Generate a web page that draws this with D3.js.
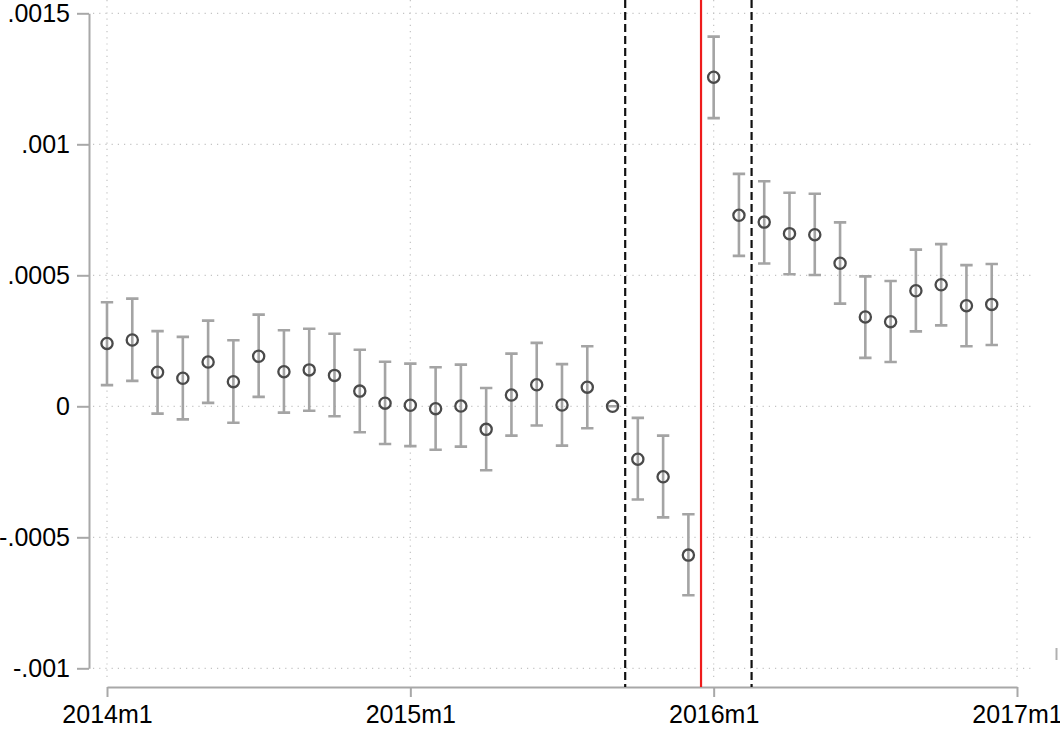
<!DOCTYPE html>
<html>
<head>
<meta charset="utf-8">
<script src="https://cdn.jsdelivr.net/npm/d3@7"></script>
<style>
  html, body { margin: 0; padding: 0; background: #fff; }
  svg { display: block; font-family: "Liberation Sans", Arial, sans-serif; }
</style>
</head>
<body>
<svg id="chart" width="1060" height="733"></svg>
<script>
// Monthly event-study coefficients, 2014m1 .. 2016m12 (reference month 2015m9 = 0)
const monthIndex = d3.range(36);
const coef = [0.000240, 0.000253, 0.000130, 0.000107, 0.000169, 0.000094, 0.000191, 0.000132,
              0.000139, 0.000118, 0.000058, 0.000012, 0.000004, -0.000009, 0.000001, -0.000088,
              0.000043, 0.000082, 0.000005, 0.000073, 0, -0.000202, -0.000269, -0.000568,
              0.001256, 0.000729, 0.000703, 0.000659, 0.000655, 0.000546, 0.000341, 0.000323,
              0.000441, 0.000464, 0.000384, 0.000389];
const ciHigh = [0.000397, 0.000411, 0.000287, 0.000265, 0.000327, 0.000252, 0.000350, 0.000290,
                0.000296, 0.000277, 0.000216, 0.000170, 0.000163, 0.000149, 0.000159, 0.000070,
                0.000201, 0.000242, 0.000161, 0.000229, 0, -0.000044, -0.000112, -0.000412,
                0.001411, 0.000887, 0.000859, 0.000815, 0.000811, 0.000702, 0.000496, 0.000478,
                0.000598, 0.000619, 0.000539, 0.000543];
const ciLow = [0.000081, 0.000097, -0.000028, -0.000050, 0.000013, -0.000063, 0.000036, -0.000024,
               -0.000017, -0.000038, -0.000099, -0.000144, -0.000152, -0.000166, -0.000154, -0.000244,
               -0.000112, -0.000073, -0.000150, -0.000084, 0, -0.000356, -0.000424, -0.000721,
               0.001100, 0.000574, 0.000545, 0.000504, 0.000501, 0.000392, 0.000185, 0.000169,
               0.000286, 0.000309, 0.000229, 0.000234];

// Axis ticks
const xTickValues = [0, 12, 24, 36];
const xTickLabels = ["2014m1", "2015m1", "2016m1", "2017m1"];
const yTickValues = [-0.001, -0.0005, 0, 0.0005, 0.001, 0.0015];
const yTickLabels = ["-.001", "-.0005", "0", ".0005", ".001", ".0015"];

// Window markers (in months since 2014m1)
const windowLines = [20.5, 25.5];
const eventLine = 23.5;

const svg = d3.select("#chart");
const x = d3.scaleLinear().domain([0, 36]).range([107, 1017]);
const y = d3.scaleLinear().domain([-0.001, 0.0015]).range([668.3, 13.3]);

const plotTop = 0, plotBottom = 681, gridLeft = 93, gridRight = 1032;
const axisGrey = "#a8a8a8";
const labelFont = "Liberation Sans, Arial, sans-serif";

// Gridlines
const grid = svg.append("g").attr("stroke", "#c4c4c4").attr("stroke-width", 1.2)
  .attr("stroke-dasharray", "1.2,5");
grid.selectAll("line.h").data(yTickValues).join("line")
  .attr("x1", gridLeft).attr("x2", gridRight)
  .attr("y1", d => y(d)).attr("y2", d => y(d));
grid.selectAll("line.v").data(xTickValues).join("line")
  .attr("x1", d => x(d)).attr("x2", d => x(d))
  .attr("y1", plotTop).attr("y2", plotBottom);

// Y axis
const yAxis = svg.append("g").attr("transform", "translate(89,0)")
  .call(d3.axisLeft(y).tickValues(yTickValues)
    .tickFormat((d, i) => yTickLabels[i]).tickSize(12).tickPadding(7).tickSizeOuter(0));
yAxis.select(".domain").attr("stroke", axisGrey).attr("stroke-width", 2);
yAxis.selectAll(".tick line").attr("stroke", axisGrey).attr("stroke-width", 2);
yAxis.selectAll(".tick text").attr("font-size", 25).attr("fill", "#000")
  .attr("font-family", labelFont);

// X axis
const xAxis = svg.append("g").attr("transform", "translate(0,687)")
  .call(d3.axisBottom(x).tickValues(xTickValues)
    .tickFormat((d, i) => xTickLabels[i]).tickSize(10).tickPadding(8).tickSizeOuter(0));
xAxis.select(".domain").attr("stroke", axisGrey).attr("stroke-width", 2);
xAxis.selectAll(".tick line").attr("stroke", axisGrey).attr("stroke-width", 2);
xAxis.selectAll(".tick text").attr("font-size", 25).attr("fill", "#000")
  .attr("font-family", labelFont);

// Window and event lines
svg.append("g").selectAll("line").data(windowLines).join("line")
  .attr("x1", d => x(d)).attr("x2", d => x(d))
  .attr("y1", plotTop).attr("y2", 687)
  .attr("stroke", "#111").attr("stroke-width", 2.2).attr("stroke-dasharray", "8,4");
svg.append("line")
  .attr("x1", x(eventLine)).attr("x2", x(eventLine))
  .attr("y1", plotTop).attr("y2", 687)
  .attr("stroke", "#ee1c1c").attr("stroke-width", 2.2);

// Confidence intervals
const capHalf = 6.2;
const ci = svg.append("g").attr("stroke", "#a4a4a4").attr("stroke-width", 2.6).attr("fill", "none");
ci.selectAll("path").data(monthIndex).join("path")
  .attr("d", i => {
    const cx = x(i), yh = y(ciHigh[i]), yl = y(ciLow[i]);
    return `M${cx - capHalf},${yh}H${cx + capHalf}M${cx},${yh}V${yl}M${cx - capHalf},${yl}H${cx + capHalf}`;
  });

// Point estimates
svg.append("g").selectAll("circle").data(monthIndex).join("circle")
  .attr("cx", i => x(i)).attr("cy", i => y(coef[i])).attr("r", 5.6)
  .attr("fill", "none").attr("stroke", "#4a4a4a").attr("stroke-width", 2.3);

// Small clipped mark at the right edge
svg.append("line").attr("x1", 1056.5).attr("x2", 1056.5).attr("y1", 648).attr("y2", 660)
  .attr("stroke", "#b0b0b0").attr("stroke-width", 2);
</script>
</body>
</html>
